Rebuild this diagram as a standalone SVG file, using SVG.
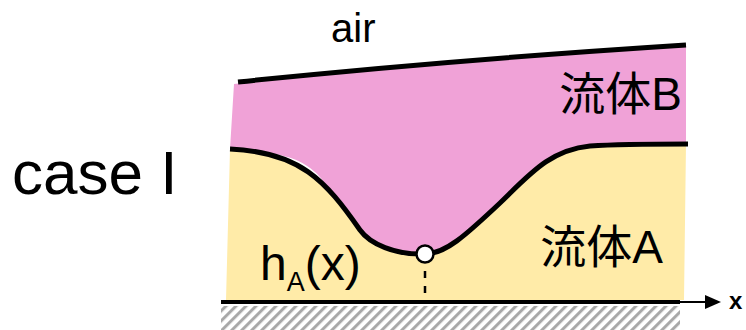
<svg xmlns="http://www.w3.org/2000/svg" width="746" height="330" viewBox="0 0 746 330">
<defs>
<style>
.t{font-family:"Liberation Sans","Noto Sans CJK JP",Arial,sans-serif;fill:#000}
.line{fill:none;stroke:#000;stroke-linecap:butt}
</style>
<pattern id="hatch" patternUnits="userSpaceOnUse" width="7.07" height="10" patternTransform="rotate(45)">
<line x1="1.5" y1="0" x2="1.5" y2="10" stroke="#A8A8A8" stroke-width="3"/>
</pattern>
</defs>
<rect width="746" height="330" fill="#fff"/>
<g id="ground">
<rect x="221" y="306" width="459" height="24" fill="url(#hatch)"/>
</g>
<g id="fluidB">
<path d="M234,84 Q450,60 686,45 L686,146 L688,144 C660,144 620,144 590,146 C550,150 530,174 500,203 C465,236 445,254 425,254 C400,254 385,255 360,230 C340,210 325,180 315,172 C300,158 280,152 230,149 Z" fill="#F0A2D7"/>
</g>
<g id="fluidA">
<path d="M230,149 C300,152 325,180 360,230 C370,244 395,255 425,254 C445,254 465,236 500,203 C530,174 550,150 590,146 C620,144 660,144 686,144 L684,300 L226,300 Z" fill="#FFEBA8"/>
</g>
<g id="connectors">
<path class="line" d="M238,82 Q450,60 686,45" stroke-width="5"/>
<path class="line" d="M230,149 C300,152 325,180 360,230 C370,244 395,255 425,254 C445,254 465,236 500,203 C530,174 550,150 590,146 C620,144 660,144 688,144" stroke-width="5"/>
<line class="line" x1="221" y1="302" x2="680" y2="302" stroke-width="4"/>
<line class="line" x1="678" y1="302" x2="707" y2="302" stroke-width="2"/>
<polygon points="705,295 721,302 705,309" fill="#000"/>
<line class="line" x1="425" y1="271" x2="425" y2="297" stroke-width="2.5" stroke-dasharray="7 8"/>
</g>
<g id="point">
<circle cx="425" cy="254" r="8.5" fill="#fff" stroke="#000" stroke-width="2.5"/>
</g>
<g id="labels">
<text class="t" x="331" y="42" font-size="40">air</text>
<text class="t" x="682" y="110" font-size="46" text-anchor="end">流体B</text>
<text class="t" x="663" y="263" font-size="46" text-anchor="end">流体A</text>
<text class="t" x="260" y="280" font-size="48">h<tspan font-size="27" dy="11">A</tspan><tspan dy="-11">(x)</tspan></text>
<text class="t" x="12" y="194" font-size="62">case I</text>
<text class="t" x="729" y="309" font-size="24" font-weight="bold">x</text>
</g>
</svg>
